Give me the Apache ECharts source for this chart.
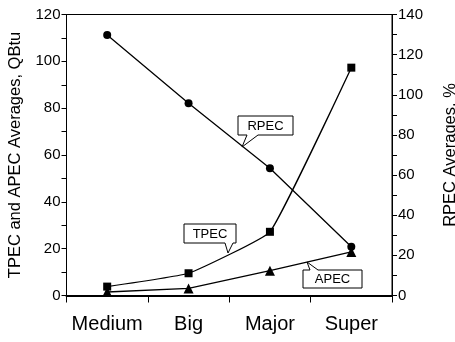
<!DOCTYPE html>
<html>
<head>
<meta charset="utf-8">
<script src="https://cdn.jsdelivr.net/npm/echarts@6/dist/echarts.min.js"></script>
<style>
html,body{margin:0;padding:0;background:#fff;}
#c{width:455px;height:342px;}
</style>
</head>
<body>
<div id="c"></div>
<script>
const categories = ['Medium', 'Big', 'Major', 'Super'];
const tpec = [3.8, 9.5, 27.2, 97.3];
const apec = [1.5, 3.0, 10.6, 18.6];
const rpec = [129.8, 95.8, 63.4, 24.3];
const leftTicks = [0, 20, 40, 60, 80, 100, 120];
const rightTicks = [0, 20, 40, 60, 80, 100, 120, 140];

const FONT = '"Liberation Sans", Arial, sans-serif';
const chart = echarts.init(document.getElementById('c'), null, {renderer: 'canvas'});

function callout(text, pts, box) {
  return {
    type: 'group',
    children: [
      {type: 'polygon', shape: {points: pts}, style: {fill: '#fff', stroke: '#000', lineWidth: 1}, z: 100},
      {type: 'text', x: (box[0] + box[2]) / 2, y: (box[1] + box[3]) / 2 + 0.5,
       style: {text: text, fill: '#000', font: '13px ' + FONT, align: 'center', verticalAlign: 'middle'}, z: 101}
    ]
  };
}

const option = {
  animation: false,
  backgroundColor: '#fff',
  grid: {left: 66.5, right: 63, top: 14.5, bottom: 46.5, containLabel: false, outerBoundsMode: 'none',
         show: true, borderColor: '#000', borderWidth: 1},
  xAxis: {
    type: 'category',
    data: categories,
    boundaryGap: true,
    axisLine: {lineStyle: {color: '#000', width: 2}},
    axisTick: {show: true, length: 7, lineStyle: {color: '#000', width: 1}},
    axisLabel: {color: '#000', fontSize: 20, fontFamily: FONT, margin: 19, interval: 0}
  },
  yAxis: [
    {
      type: 'value', min: 0, max: 120, interval: 10, position: 'left',
      name: 'TPEC and APEC Averages, QBtu', nameLocation: 'middle', nameGap: 43,
      nameTextStyle: {color: '#000', fontSize: 16.5, fontFamily: FONT},
      axisLine: {show: true, lineStyle: {color: '#000', width: 1}},
      axisTick: {show: true, length: 5, lineStyle: {color: '#000'}},
      splitLine: {show: false},
      axisLabel: {color: '#000', fontSize: 15, fontFamily: FONT, margin: 6,
        formatter: v => leftTicks.includes(v) ? String(v) : ''}
    },
    {
      type: 'value', min: 0, max: 140, interval: 10, position: 'right',
      name: 'RPEC Averages, %', nameLocation: 'middle', nameGap: 50,
      nameTextStyle: {color: '#000', fontSize: 16.5, fontFamily: FONT},
      axisLine: {show: true, lineStyle: {color: '#000', width: 1}},
      axisTick: {show: true, length: 5, lineStyle: {color: '#000'}},
      splitLine: {show: false},
      axisLabel: {color: '#000', fontSize: 15, fontFamily: FONT, margin: 6,
        formatter: v => rightTicks.includes(v) ? String(v) : ''}
    }
  ],
  series: [
    {
      name: 'RPEC', type: 'line', yAxisIndex: 1, data: rpec,
      symbol: 'circle', symbolSize: 8,
      lineStyle: {color: '#000', width: 1.3}, itemStyle: {color: '#000'}
    },
    {
      name: 'TPEC', type: 'line', yAxisIndex: 0, data: tpec, smooth: 0.1,
      symbol: 'rect', symbolSize: 8,
      lineStyle: {color: '#000', width: 1.3}, itemStyle: {color: '#000'}
    },
    {
      name: 'APEC', type: 'line', yAxisIndex: 0, data: apec,
      symbol: 'triangle', symbolSize: 10,
      lineStyle: {color: '#000', width: 1.3}, itemStyle: {color: '#000'}
    }
  ],
  graphic: [
    callout('RPEC', [[238,116],[293,116],[293,135],[258,135],[242,147],[247,135],[238,135]], [238,116,293,135]),
    callout('TPEC', [[184,224],[236,224],[236,243],[233,243],[228,253],[225,243],[184,243]], [184,224,236,243]),
    callout('APEC', [[303,270],[310,270],[307,262],[318,270],[362,270],[362,288],[303,288]], [303,270,362,288])
  ]
};
chart.setOption(option);
</script>
</body>
</html>
